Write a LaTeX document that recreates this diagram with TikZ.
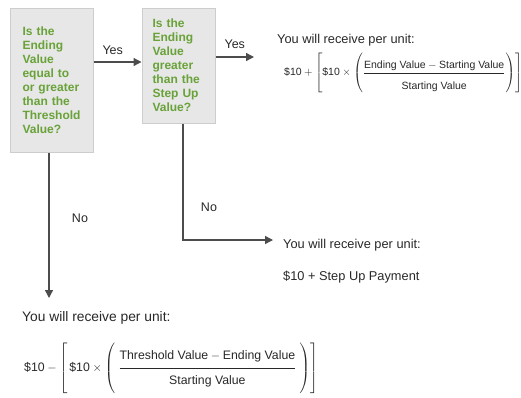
\documentclass[tikz,border=0pt]{standalone}
\usepackage{amsmath}
\usepackage{fontspec}
\setmainfont{Liberation Sans}
\usetikzlibrary{arrows.meta}
\definecolor{qgreen}{RGB}{104,162,56}
\definecolor{qfill}{RGB}{231,231,231}
\definecolor{qline}{RGB}{205,205,205}
\definecolor{ink}{RGB}{40,40,40}
\tikzset{q/.style={draw=qline,fill=qfill,line width=1pt,text=qgreen,align=left,font=\fontsize{12}{14}\selectfont\bfseries}}
\tikzset{l/.style={font=\fontsize{12.5}{14}\selectfont,text=ink}}
\tikzset{h/.style={font=\fontsize{12.8}{15}\selectfont,text=ink,anchor=base west,inner sep=0pt}}
\tikzset{a/.style={draw=black!70,line width=1.3pt,-{Triangle[length=8pt,width=8pt]}}}

\begin{document}
\begin{tikzpicture}[x=1pt,y=-1pt]
            \useasboundingbox (0,0) rectangle (521,397);
            % the two questions
            \node[q,minimum width=83pt,minimum height=144pt,text width=58pt] (q1) at (51.5,80)
              {Is the\\Ending\\Value\\equal to\\or greater\\than the\\Threshold\\Value?};
            \node[q,minimum width=73pt,minimum height=115pt,text width=52pt] (q2) at (178.5,65.5)
              {Is the\\Ending\\Value\\greater\\than the\\Step Up\\Value?};
            % what you receive
            \node[h] (r1) at (277,43) {You will receive per unit:};
            \node[anchor=west,inner sep=0pt,text=ink,font=\fontsize{10.5}{12}\selectfont] (f1) at (284,73)
              {$\text{\$10}+\left[\text{\$10}\times\left(\dfrac{\text{Ending Value}\rule[-3pt]{0pt}{3pt}-\text{Starting Value}}{\rule{0pt}{15pt}\text{Starting Value}}\right)\right]$};
            \node[h] (r2) at (283,248) {You will receive per unit:};
            \node[h] (p2) at (283,280) {\$10 + Step Up Payment};
            \node[h,font=\fontsize{13.8}{16}\selectfont] (r3) at (22,321) {You will receive per unit:};
            \node[anchor=west,inner sep=0pt,text=ink,font=\fontsize{12.3}{14}\selectfont] (f3) at (24,368)
              {$\text{\$10}-\left[\,\text{\$10}\times\left(\rule[-21pt]{0pt}{47pt}\;\dfrac{\text{Threshold Value}-\text{Ending Value}\rule[-7pt]{0pt}{7pt}}{\rule{0pt}{15pt}\text{Starting Value}}\;\right)\right]$};
            % arrow ends
            \coordinate (e1) at (254,57);
            \coordinate (e2) at (273,240);
            \coordinate (e3) at (49,298);
            \path ([yshift=18pt]q1.east) coordinate (s1);
            \draw[a] (s1) -- (s1 -| q2.west) node[l,pos=0.4,above=3pt] {Yes};
            \draw[a] ([yshift=8.5pt]q2.east) -- (e1) node[l,midway,above=4pt] {Yes};
            \draw[a] ([xshift=-2.5pt]q1.south) -- (e3) node[l,pos=0.45,right=19pt] {No};
            \draw[a] ([xshift=4.5pt]q2.south) |- (e2) node[l,pos=0.36,right=14pt] {No};
          \end{tikzpicture}
\end{document}
